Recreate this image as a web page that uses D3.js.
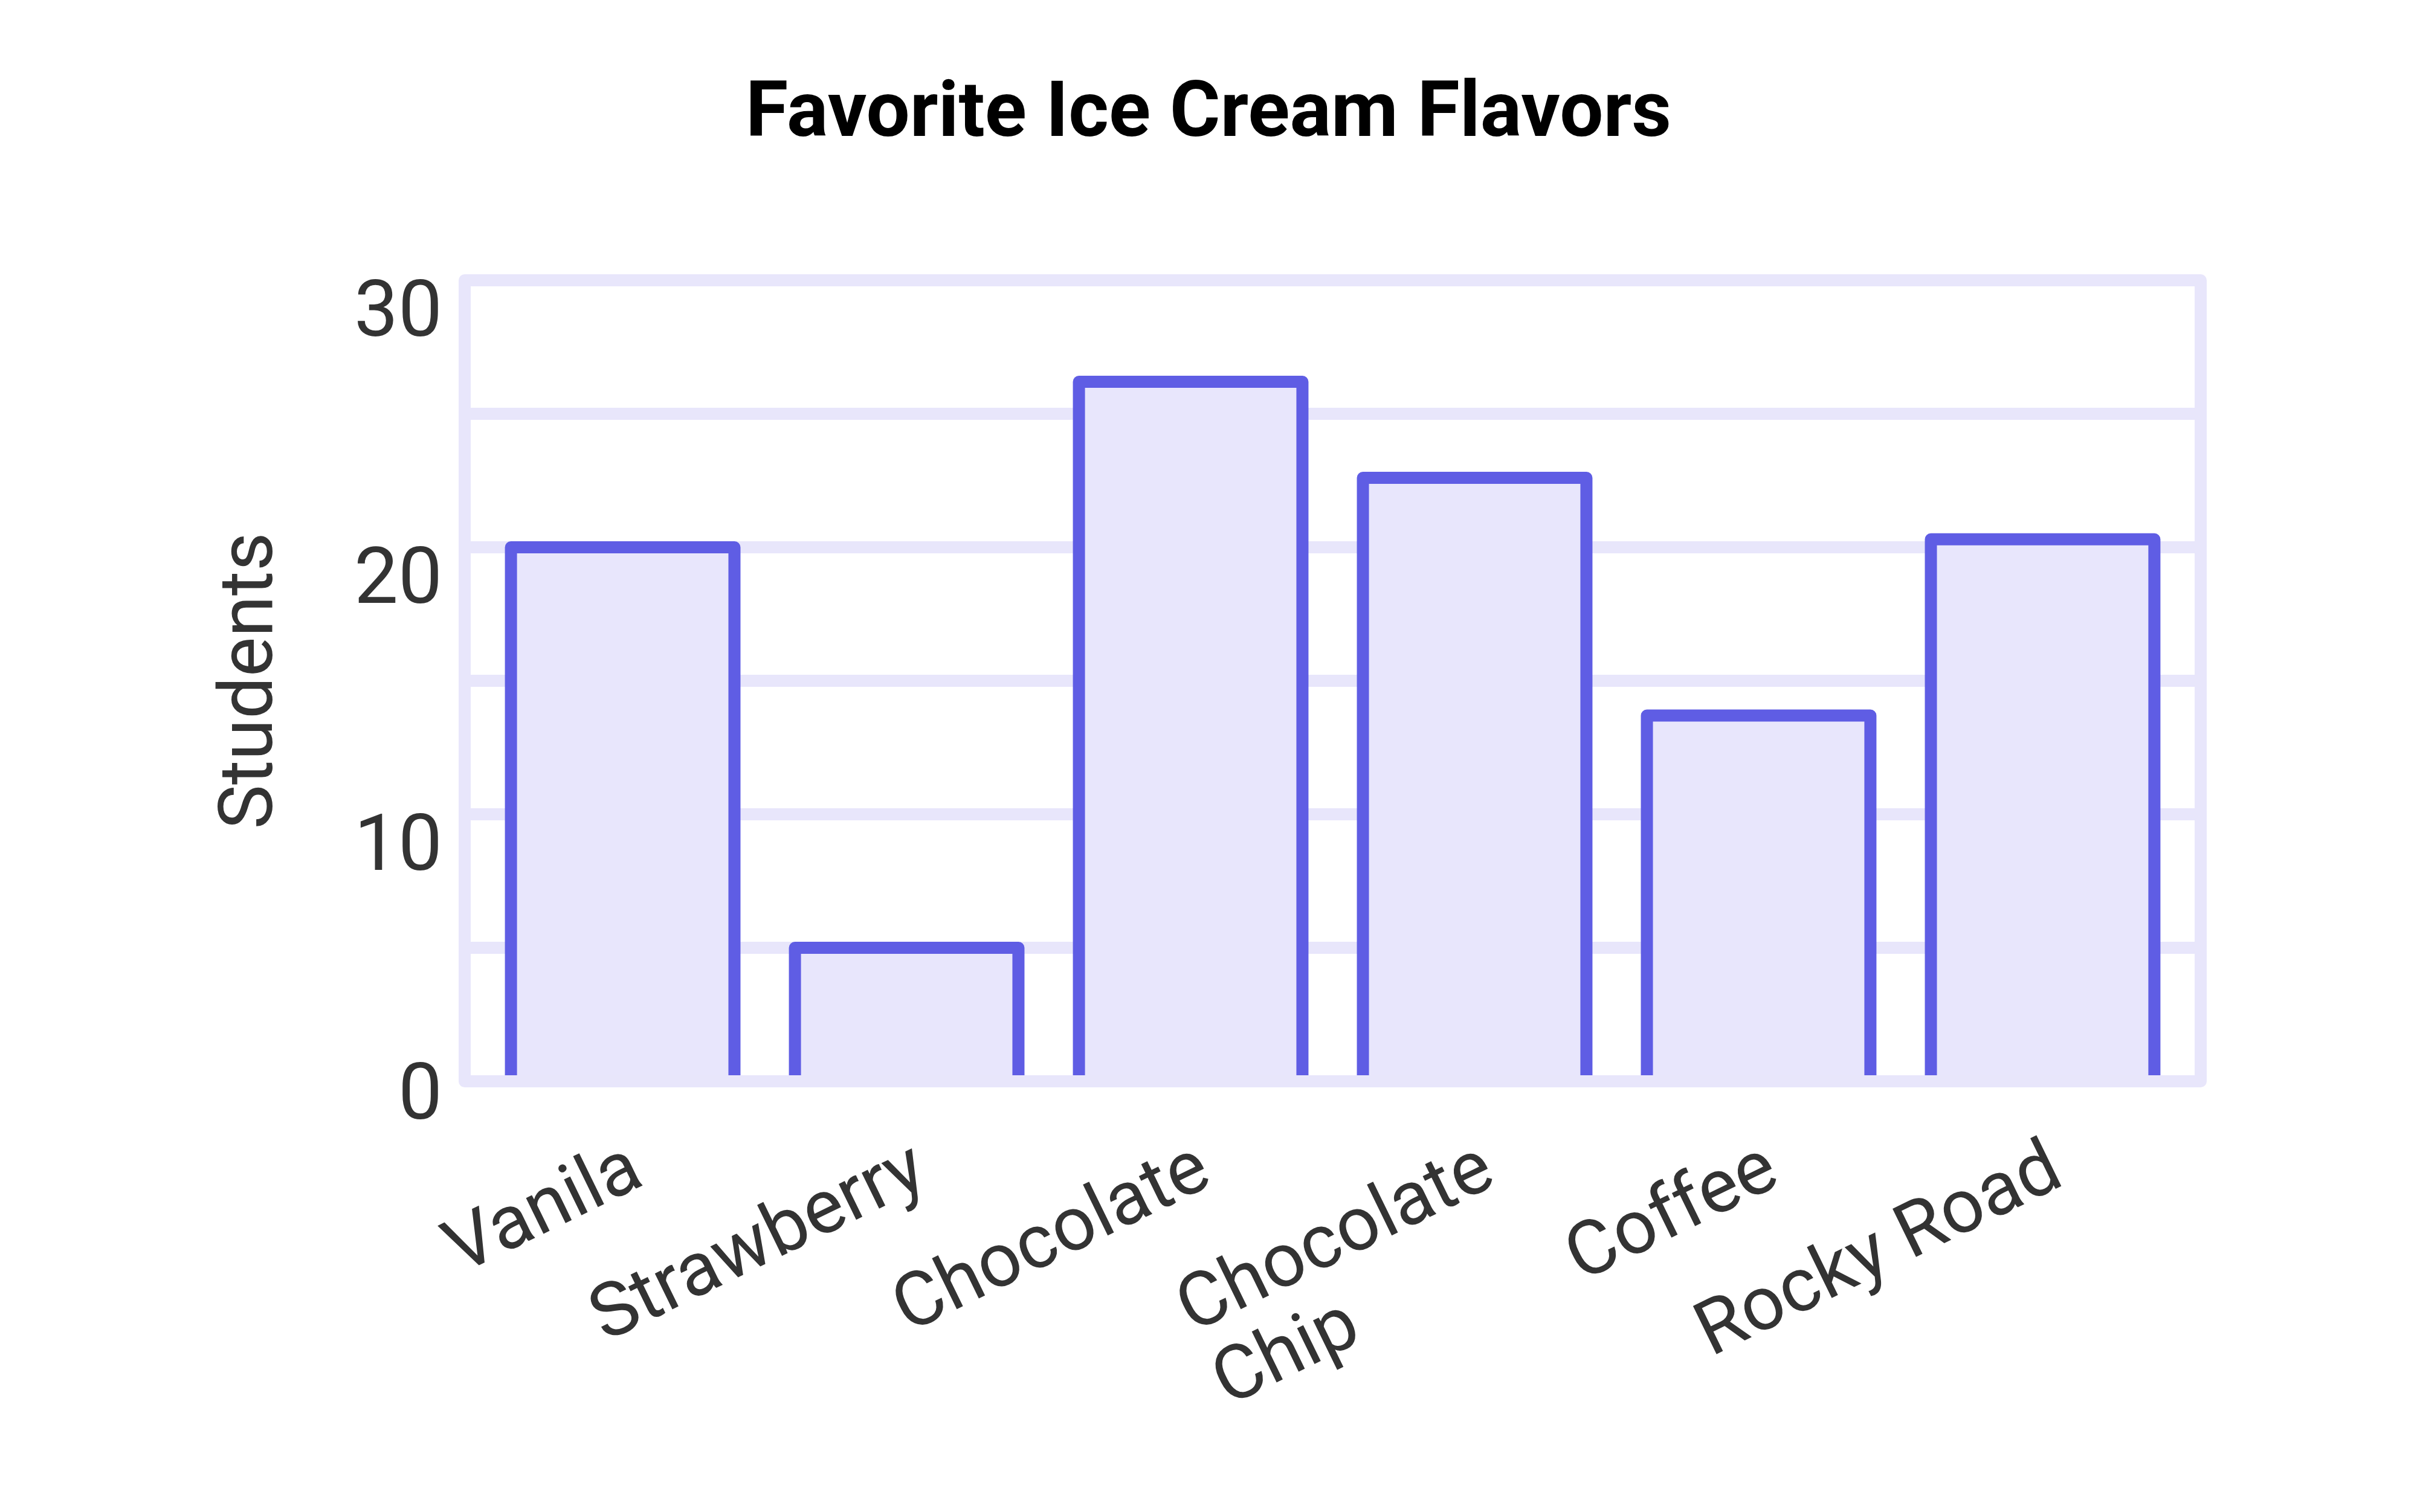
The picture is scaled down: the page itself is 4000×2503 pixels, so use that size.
<!DOCTYPE html>
<html>
<head>
<meta charset="utf-8">
<script src="https://cdn.jsdelivr.net/npm/d3@7"></script>
<style>
  html, body { margin: 0; padding: 0; background: #ffffff; }
  svg { display: block; }
</style>
</head>
<body>
<svg id="chart" width="4000" height="2503"></svg>
<script>
// ---- data ----
const categories = ["Vanila", "Strawberry", "Chocolate", "Chocolate Chip", "Coffee", "Rocky Road"];
const categoryLines = [["Vanila"], ["Strawberry"], ["Chocolate"], ["Chocolate", "Chip"], ["Coffee"], ["Rocky Road"]];
const students = [20, 5, 26.2, 22.6, 13.7, 20.3];
const yTickLabels = [0, 10, 20, 30];
const gridValues = [5, 10, 15, 20, 25];
const yDomain = [0, 30];
const titleText = "Favorite Ice Cream Flavors";
const yAxisTitle = "Students";

// ---- styles ----
const FONT = "Roboto, 'Noto Sans', sans-serif";
const frameColor = "#e8e6fb";
const barStroke = "#5f5de4";
const barFill = "#e8e6fc";
const textColor = "#333333";

const svg = d3.select("#chart");
svg.append("rect").attr("width", 4000).attr("height", 2503).attr("fill", "#ffffff");

const plotLeft = 769, plotRight = 3642, plotTop = 464, plotBottom = 1790;

const y = d3.scaleLinear().domain(yDomain).range([plotBottom, plotTop]);
const x = d3.scaleBand().domain(categories).range([plotLeft, plotRight])
  .paddingInner(0.213).paddingOuter(0.163);

// gridlines
svg.append("g").selectAll("line").data(gridValues).join("line")
  .attr("x1", plotLeft).attr("x2", plotRight)
  .attr("y1", d => y(d)).attr("y2", d => y(d))
  .attr("stroke", frameColor).attr("stroke-width", 20);

// bars (open at the bottom)
svg.append("g").selectAll("path").data(categories).join("path")
  .attr("d", (c, i) => {
    const x0 = x(c), x1 = x(c) + x.bandwidth();
    const y0 = y(0), yv = y(students[i]);
    return `M${x0},${y0} V${yv} H${x1} V${y0}`;
  })
  .attr("fill", barFill)
  .attr("stroke", barStroke)
  .attr("stroke-width", 20)
  .attr("stroke-linejoin", "round");

// frame
svg.append("rect")
  .attr("x", plotLeft).attr("y", y(yDomain[1]))
  .attr("width", plotRight - plotLeft).attr("height", y(yDomain[0]) - y(yDomain[1]))
  .attr("fill", "none").attr("stroke", frameColor).attr("stroke-width", 20)
  .attr("stroke-linejoin", "round");

// y tick labels
const tickFs = 130;
svg.append("g").selectAll("text").data(yTickLabels).join("text")
  .attr("x", 732)
  .attr("y", d => Math.min(y(d), y(0) - 30) + 0.711 * tickFs)
  .attr("text-anchor", "end")
  .attr("font-family", FONT).attr("font-size", tickFs)
  .attr("fill", textColor)
  .text(d => d);

// y axis title
svg.append("text")
  .attr("transform", `translate(450, ${(plotTop + plotBottom) / 2}) rotate(-90)`)
  .attr("text-anchor", "middle")
  .attr("font-family", FONT).attr("font-size", 124)
  .attr("fill", textColor)
  .text(yAxisTitle);

// x labels
const labelFs = 125;
const labelAngle = -26;
categories.forEach((c, i) => {
  const cx = x(c) + x.bandwidth() / 2 - 12;
  const g = svg.append("g").attr("transform", `translate(${cx}, 1855) rotate(${labelAngle})`);
  const t = g.append("text")
    .attr("font-family", FONT).attr("font-size", labelFs)
    .attr("fill", textColor);
  const spans = categoryLines[i].map((line, j) =>
    t.append("tspan").attr("x", 0).attr("dy", j === 0 ? "0.93em" : "1.08em").text(line));
  const maxW = d3.max(spans, s => s.node().getComputedTextLength());
  spans.forEach(s => s.attr("x", -maxW));
});

// title
svg.append("text")
  .attr("x", 2000).attr("y", 225)
  .attr("text-anchor", "middle")
  .attr("font-family", FONT).attr("font-weight", 700).attr("font-size", 128)
  .attr("fill", "#000000")
  .text(titleText);
</script>
</body>
</html>
